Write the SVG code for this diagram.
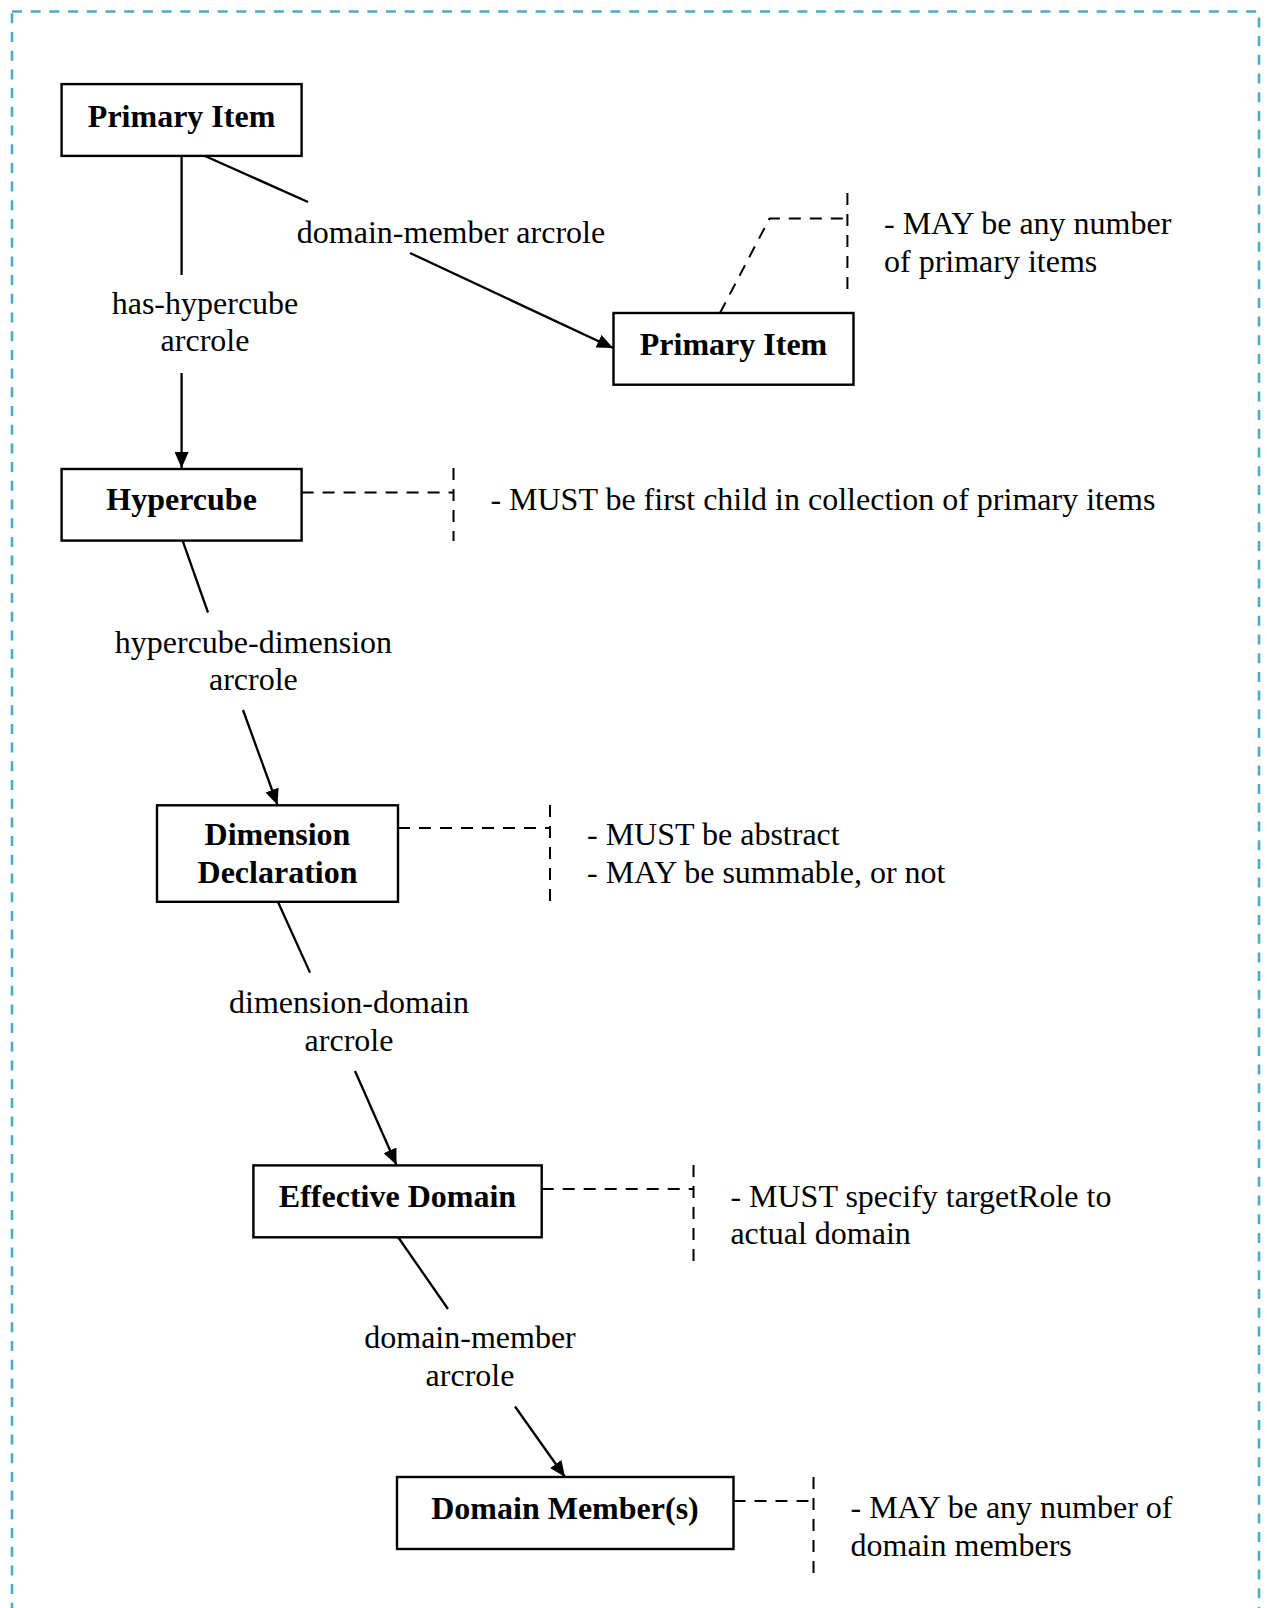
<svg xmlns="http://www.w3.org/2000/svg" width="1267" height="1608" viewBox="0 0 1267 1608">
<style>
.box{fill:#fff;stroke:#000;stroke-width:2.4}
.t{font-family:"Liberation Serif","Times New Roman",serif;font-size:32px;fill:#000}
.b{font-weight:bold;text-anchor:middle}
.c{text-anchor:middle}
.ln{stroke:#000;stroke-width:2.3;fill:none}
.dl{stroke:#000;stroke-width:2;fill:none;stroke-dasharray:12 9}
</style>
<defs>
<marker id="ah" viewBox="0 0 16 14" refX="16" refY="7" markerWidth="16" markerHeight="14" markerUnits="userSpaceOnUse" orient="auto">
<path d="M0,0 L16,7 L0,14 Z" fill="#000"/>
</marker>
</defs>
<rect x="0" y="0" width="1267" height="1608" fill="#fff"/>
<rect x="12" y="11.5" width="1247" height="1620" fill="none" stroke="#4BACC6" stroke-width="2.6" stroke-dasharray="10 8.7"/>

<g id="connectors">
<line class="ln" x1="181.6" y1="156" x2="181.6" y2="275"/>
<line class="ln" x1="181.6" y1="373" x2="181.6" y2="468" marker-end="url(#ah)"/>
<line class="ln" x1="205" y1="156" x2="308" y2="202"/>
<line class="ln" x1="410" y1="253" x2="613" y2="348" marker-end="url(#ah)"/>
<line class="ln" x1="182.6" y1="540.6" x2="208" y2="612.5"/>
<line class="ln" x1="243" y1="710" x2="277.5" y2="805" marker-end="url(#ah)"/>
<line class="ln" x1="278" y1="902" x2="310" y2="972.6"/>
<line class="ln" x1="355" y1="1071" x2="396.5" y2="1165" marker-end="url(#ah)"/>
<line class="ln" x1="398" y1="1237" x2="448" y2="1309"/>
<line class="ln" x1="515" y1="1406.5" x2="565" y2="1477" marker-end="url(#ah)"/>
<text class="t c" x="451" y="243">domain-member arcrole</text>
<text class="t c" x="205" y="314">has-hypercube</text>
<text class="t c" x="205" y="351">arcrole</text>
<text class="t c" x="253.4" y="652.5">hypercube-dimension</text>
<text class="t c" x="253.4" y="689.5">arcrole</text>
<text class="t c" x="349" y="1012.6">dimension-domain</text>
<text class="t c" x="349" y="1050.5">arcrole</text>
<text class="t c" x="470" y="1348">domain-member</text>
<text class="t c" x="470" y="1386">arcrole</text>
</g>

<g id="annotations">
<polyline class="dl" points="720,313 769.5,218.5 847.4,218.5"/>
<line class="dl" x1="847.4" y1="193" x2="847.4" y2="291"/>
<text class="t" x="884" y="234">- MAY be any number</text>
<text class="t" x="884" y="272">of primary items</text>

<line class="dl" x1="301.6" y1="492.5" x2="453.5" y2="492.5"/>
<line class="dl" x1="453.5" y1="468" x2="453.5" y2="541"/>
<text class="t" x="490.4" y="510">- MUST be first child in collection of primary items</text>

<line class="dl" x1="398" y1="828" x2="550" y2="828"/>
<line class="dl" x1="550" y1="805" x2="550" y2="902"/>
<text class="t" x="587" y="845">- MUST be abstract</text>
<text class="t" x="587" y="883">- MAY be summable, or not</text>

<line class="dl" x1="541.7" y1="1189" x2="693.5" y2="1189"/>
<line class="dl" x1="693.5" y1="1165" x2="693.5" y2="1262"/>
<text class="t" x="730.4" y="1206.5">- MUST specify targetRole to</text>
<text class="t" x="730.4" y="1243.5">actual domain</text>

<line class="dl" x1="733.5" y1="1501" x2="813.5" y2="1501"/>
<line class="dl" x1="813.5" y1="1477" x2="813.5" y2="1574"/>
<text class="t" x="850.5" y="1518">- MAY be any number of</text>
<text class="t" x="850.5" y="1556">domain members</text>
</g>

<g id="primary-item-1">
<rect class="box" x="61.6" y="84.1" width="240" height="71.8"/>
<text class="t b" x="181.6" y="127">Primary Item</text>
</g>
<g id="primary-item-2">
<rect class="box" x="613.5" y="313" width="240" height="71.7"/>
<text class="t b" x="733.5" y="355">Primary Item</text>
</g>
<g id="hypercube">
<rect class="box" x="61.6" y="469" width="240" height="71.6"/>
<text class="t b" x="181.6" y="510">Hypercube</text>
</g>
<g id="dimension-declaration">
<rect class="box" x="157" y="805.3" width="241" height="96.5"/>
<text class="t b" x="277.5" y="845">Dimension</text>
<text class="t b" x="277.5" y="883">Declaration</text>
</g>
<g id="effective-domain">
<rect class="box" x="253.4" y="1165.4" width="288.3" height="71.9"/>
<text class="t b" x="397.5" y="1206.5">Effective Domain</text>
</g>
<g id="domain-members">
<rect class="box" x="397" y="1477" width="336.5" height="72"/>
<text class="t b" x="565" y="1519">Domain Member(s)</text>
</g>
</svg>
